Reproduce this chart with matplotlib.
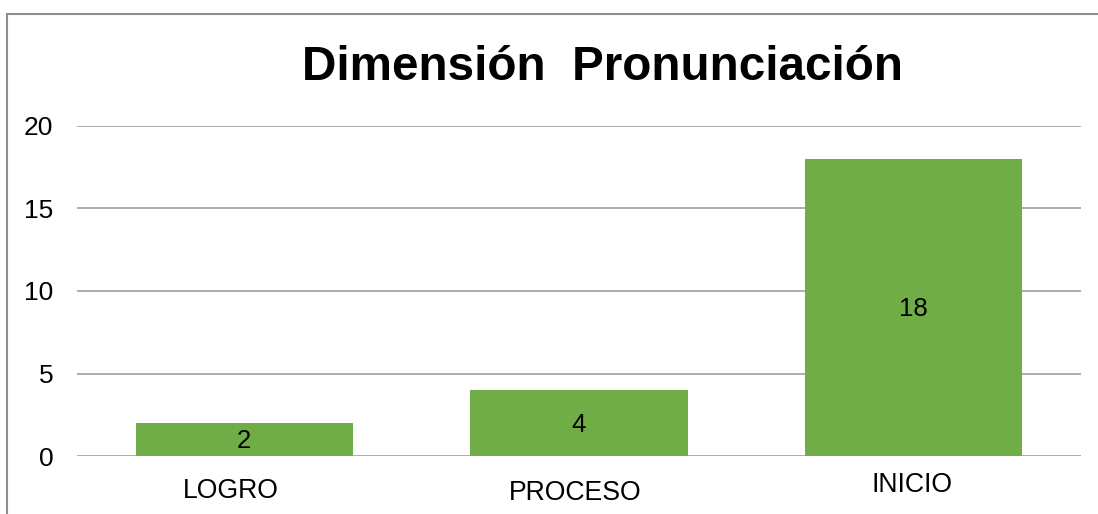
import matplotlib
matplotlib.use("Agg")
import matplotlib.pyplot as plt
from matplotlib.patches import Rectangle
from matplotlib.transforms import blended_transform_factory, ScaledTranslation

categories = ["LOGRO", "PROCESO", "INICIO"]
values = [2, 4, 18]
yticks = [0, 5, 10, 15, 20]
title = "Dimensión  Pronunciación"

W, H = 1098, 514
plt.rcParams['font.family'] = ['Liberation Sans', 'DejaVu Sans']
fig = plt.figure(figsize=(W / 100, H / 100), dpi=100)
fig.patch.set_facecolor("white")

# outer chart border (extends beyond right/bottom edges)
fig.add_artist(Rectangle((7 / W, -0.1), 1.2, 1 - 14 / H + 0.1, transform=fig.transFigure,
                         fill=False, edgecolor="#8f8f8f", linewidth=1.5))

ax = fig.add_axes([77 / W, 1 - 456 / H, (1081 - 77) / W, (456 - 126) / H])
x = list(range(len(categories)))
bars = ax.bar(x, values, width=0.65, color="#70AD47", zorder=3)
ax.set_xlim(-0.5, len(categories) - 0.5)
ax.set_ylim(0, 20)
ax.set_yticks(yticks)
ax.set_yticklabels([str(t) for t in yticks], fontsize=19)
ax.tick_params(axis="y", length=0, pad=17)
ax.set_xticks(x)
ax.set_xticklabels([])
ax.tick_params(axis="x", length=0)
ax.grid(axis="y", color="#a6a6a6", linewidth=1.3, zorder=0)
for s in ax.spines.values():
    s.set_visible(False)

down = ScaledTranslation(0, -2 / 100, fig.dpi_scale_trans)
for b, v in zip(bars, values):
    ax.text(b.get_x() + b.get_width() / 2, v / 2, str(v), ha="center", va="center",
            fontsize=18.5, color="black", zorder=4, transform=ax.transData + down)

# category labels (positional offsets as in the reference, in pixels)
label_y_px = [491.5, 492.5, 485.5]
label_dx_px = [-14, -4, -1.5]
tr = blended_transform_factory(ax.transData, fig.transFigure)
for xi, lab, ypx, dx in zip(x, categories, label_y_px, label_dx_px):
    t = tr + ScaledTranslation(dx / 100, 0, fig.dpi_scale_trans)
    ax.text(xi, 1 - ypx / H, lab, ha="center", va="center", fontsize=19.2, transform=t)

fig.text(602 / W, 1 - 68 / H, title, ha="center", va="center", fontsize=34.3, fontweight="bold")

fig.savefig("out.png", dpi=100)
